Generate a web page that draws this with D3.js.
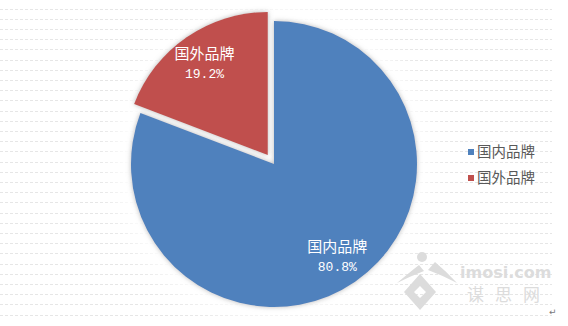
<!DOCTYPE html>
<html>
<head>
<meta charset="utf-8">
<script src="https://cdn.jsdelivr.net/npm/d3@7"></script>
<style>
  body { margin: 0; background: #fff; }
  svg { display: block; }
</style>
</head>
<body>
<div id="chart"></div>
<script>
const w = 568;
const h = 326;

const categories = ["国内品牌", "国外品牌"];
const shares = [80.8, 19.2];
const colors = ["#4F81BD", "#C0504D"];
const explode = [0, 11];

const cx = 274, cy = 164, radius = 143;

const svg = d3.select("#chart").append("svg")
  .attr("width", w)
  .attr("height", h);

const defs = svg.append("defs");
const sh = defs.append("filter").attr("id", "shadow")
  .attr("x", "-20%").attr("y", "-20%").attr("width", "140%").attr("height", "140%");
sh.append("feDropShadow")
  .attr("dx", 0).attr("dy", 0)
  .attr("stdDeviation", 2.5)
  .attr("flood-color", "#9a9a9a")
  .attr("flood-opacity", 0.7);
const glow = defs.append("filter").attr("id", "glow")
  .attr("x", "-50%").attr("y", "-50%").attr("width", "200%").attr("height", "200%");
glow.append("feGaussianBlur").attr("stdDeviation", 12);

// page grid lines
const gridY = d3.range(8.5, 320, 10.2);
svg.append("g").selectAll("line")
  .data(gridY)
  .join("line")
  .attr("x1", 0).attr("x2", 552)
  .attr("y1", d => Math.round(d) + 0.5).attr("y2", d => Math.round(d) + 0.5)
  .attr("stroke", "#e6e6e6")
  .attr("stroke-dasharray", "3,2");

// soft white glow around the pie
svg.append("circle")
  .attr("cx", cx - 3).attr("cy", cy - 3)
  .attr("r", radius + 14)
  .attr("fill", "#fff")
  .attr("filter", "url(#glow)");

const pie = d3.pie().sort(null).startAngle(0).endAngle(2 * Math.PI);
const arcs = pie(shares);
const arc = d3.arc().innerRadius(0).outerRadius(radius);

const offset = (d, i) => {
  const a = (d.startAngle + d.endAngle) / 2;
  return [Math.sin(a) * explode[i], -Math.cos(a) * explode[i]];
};

const g = svg.append("g").attr("transform", `translate(${cx},${cy})`);

g.selectAll("path.slice")
  .data(arcs)
  .join("path")
  .attr("class", "slice")
  .attr("d", arc)
  .attr("fill", (d, i) => colors[i])
  .attr("filter", "url(#shadow)")
  .attr("transform", (d, i) => `translate(${offset(d, i)})`);

const labelArc = d3.arc().innerRadius(radius * 0.78).outerRadius(radius * 0.78);

const lbl = g.selectAll("g.lbl")
  .data(arcs)
  .join("g")
  .attr("class", "lbl")
  .attr("transform", (d, i) => {
    const [x, y] = labelArc.centroid(d);
    const [ox, oy] = offset(d, i);
    return `translate(${x + ox},${y + oy})`;
  });

lbl.append("text")
  .attr("text-anchor", "middle")
  .attr("y", -4)
  .attr("fill", "#fff")
  .style("font-family", "'Noto Sans CJK SC', sans-serif")
  .style("font-size", "15px")
  .text((d, i) => categories[i]);

lbl.append("text")
  .attr("text-anchor", "middle")
  .attr("y", 15)
  .attr("fill", "#fff")
  .style("font-family", "'Liberation Mono', monospace")
  .style("font-size", "13px")
  .text(d => d.data.toFixed(1) + "%");

// legend
const legend = svg.append("g").attr("transform", "translate(468,152)");
const items = legend.selectAll("g")
  .data(categories)
  .join("g")
  .attr("transform", (d, i) => `translate(0,${i * 26})`);
items.append("rect")
  .attr("x", 0).attr("y", -3)
  .attr("width", 6).attr("height", 6)
  .attr("fill", (d, i) => colors[i]);
items.append("text")
  .attr("x", 9)
  .attr("y", 5)
  .attr("fill", "#595959")
  .style("font-family", "'Noto Sans CJK SC', sans-serif")
  .style("font-size", "14.5px")
  .text(d => d);

// watermark
const wm = svg.append("g").attr("fill", "#dcdcdc");
wm.append("path")
  .attr("d", "M397,283 Q410,272 419,265 L424,271 Q411,276 397,283 Z");
wm.append("path")
  .attr("d", "M428,270 L435,262 Q447,272 457,283 Q444,276 428,270 Z");
wm.append("path")
  .attr("fill-rule", "evenodd")
  .attr("d", "M420,274 L436,292 L420,310 L404,292 Z M420,286 L426,292 L420,298 L414,292 Z");
wm.append("circle").attr("cx", 422).attr("cy", 257).attr("r", 5);
wm.append("text")
  .attr("x", 460).attr("y", 278)
  .style("font-family", "'DejaVu Sans', sans-serif")
  .style("font-weight", "bold")
  .style("font-size", "16px")
  .text("imosi.com");
wm.append("text")
  .attr("x", 467).attr("y", 301)
  .style("font-family", "'Noto Sans CJK SC', sans-serif")
  .style("font-size", "17px")
  .style("letter-spacing", "11px")
  .text("谋思网");

svg.append("text")
  .attr("x", 549).attr("y", 315)
  .attr("fill", "#777")
  .style("font-family", "'DejaVu Sans', sans-serif")
  .style("font-size", "9px")
  .text("↵");
</script>
</body>
</html>
